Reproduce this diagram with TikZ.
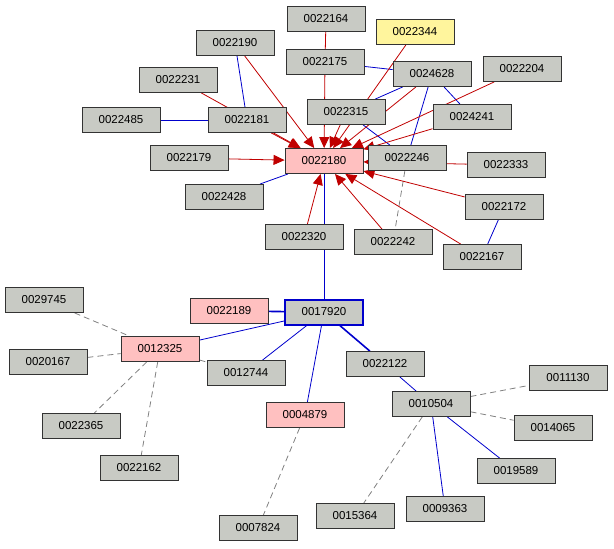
\documentclass[tikz,border=0pt]{standalone}
\usepackage{fontspec}
\setmainfont{Liberation Sans}
\usetikzlibrary{arrows.meta,backgrounds}
\definecolor{boxgray}{HTML}{C8CAC4}
\definecolor{boxpink}{HTML}{FFC0C0}
\definecolor{boxyellow}{HTML}{FFF59D}
\definecolor{linkred}{HTML}{C00000}
\definecolor{linkblue}{HTML}{0000CC}
\tikzset{
  pub/.style={draw=black!80, fill=boxgray, line width=0.9pt, minimum width=78pt, minimum height=25pt, font=\fontsize{11.5}{12}\selectfont, inner sep=0pt},
  cites/.style={->, draw=linkred, line width=0.8pt, -{Triangle[length=11pt,width=10pt]}},
  redln/.style={draw=linkred, line width=0.8pt},
  blueln/.style={draw=linkblue, line width=0.8pt},
  dashln/.style={draw=gray, line width=0.8pt, dash pattern=on 6pt off 4pt},
}
\begin{document}
\begin{tikzpicture}[x=1pt, y=-1pt]
    \useasboundingbox (0,0) rectangle (614,549);
    \node[pub] (a164) at (326, 19) {0022164};
    \node[pub, fill=boxyellow] (a344) at (415, 32) {0022344};
    \node[pub] (a190) at (235, 43) {0022190};
    \node[pub] (a175) at (325, 62) {0022175};
    \node[pub] (a204) at (522, 69) {0022204};
    \node[pub] (a231) at (178, 80) {0022231};
    \node[pub] (a485) at (121,120) {0022485};
    \node[pub] (a181) at (247,120) {0022181};
    \node[pub] (a315) at (346,112) {0022315};
    \node[pub] (a628) at (432, 74) {0024628};
    \node[pub] (a241) at (472,117) {0024241};
    \node[pub] (a179) at (189,158) {0022179};
    \node[pub] (a246) at (407,158) {0022246};
    \node[pub, fill=boxpink] (a180) at (324,161) {0022180};
    \node[pub] (a333) at (506,165) {0022333};
    \node[pub] (a428) at (224,197) {0022428};
    \node[pub] (a172) at (504,207) {0022172};
    \node[pub] (a320) at (304,237) {0022320};
    \node[pub] (a242) at (393,242) {0022242};
    \node[pub] (a167) at (482,257) {0022167};
    \node[pub] (b745) at (44,300) {0029745};
    \node[pub, fill=boxpink] (a189) at (229,311) {0022189};
    \node[pub, draw=linkblue, line width=2pt] (c920) at (324,312) {0017920};
    \node[pub, fill=boxpink] (b325) at (160,349) {0012325};
    \node[pub] (b167) at (48,362) {0020167};
    \node[pub] (b744) at (246,373) {0012744};
    \node[pub] (a122) at (385,364) {0022122};
    \node[pub] (d130) at (568,378) {0011130};
    \node[pub] (d504) at (431,404) {0010504};
    \node[pub] (d065) at (553,428) {0014065};
    \node[pub, fill=boxpink] (e879) at (305,415) {0004879};
    \node[pub] (b365) at (81,426) {0022365};
    \node[pub] (b162) at (139,468) {0022162};
    \node[pub] (d589) at (516,471) {0019589};
    \node[pub] (e824) at (258,528) {0007824};
    \node[pub] (d364) at (355,516) {0015364};
    \node[pub] (d363) at (445,509) {0009363};

    \begin{scope}[on background layer]
    % links among the citing papers
    \draw[redln] (a164) -- (a175);
    \draw[blueln] (a190) -- (a181);
    \draw[blueln] (a485) -- (a181);
    \draw[blueln] (a428) -- (a180);
    \draw[blueln] (a175) -- (a628);
    \draw[blueln] (a628) -- (a315);
    \draw[blueln] (a628) -- (a246);
    \draw[blueln] (a628) -- (a241);
    \draw[blueln] (a315) -- (a246);
    \draw[blueln] (a172) -- (a167);
    \draw[dashln] (a246) -- (a242);
    % citations of 0022180
    \foreach \src in {a190,a231,a181,a179,a175,a315,a344,a628,a204,a241,a333,a172,a167,a242,a320}
      \draw[cites] (\src) -- (a180);
    % lower cluster
    \draw[blueln] (a180) -- (c920);
    \draw[blueln, line width=1.6pt] (a189) -- (c920);
    \draw[blueln] (c920) -- (b325);
    \draw[blueln] (c920) -- (b744);
    \draw[blueln] (c920) -- (e879);
    \draw[blueln, line width=1.6pt] (c920) -- (a122);
    \draw[blueln] (a122) -- (d504);
    \draw[blueln] (d504) -- (d589);
    \draw[blueln] (d504) -- (d363);
    \draw[dashln] (b745) -- (b325);
    \draw[dashln] (b167) -- (b325);
    \draw[dashln] (b325) -- (b365);
    \draw[dashln] (b325) -- (b162);
    \draw[dashln] (b325) -- (b744);
    \draw[dashln] (e879) -- (e824);
    \draw[dashln] (d504) -- (d130);
    \draw[dashln] (d504) -- (d065);
    \draw[dashln] (d504) -- (d364);
    \end{scope}
\end{tikzpicture}
\end{document}
